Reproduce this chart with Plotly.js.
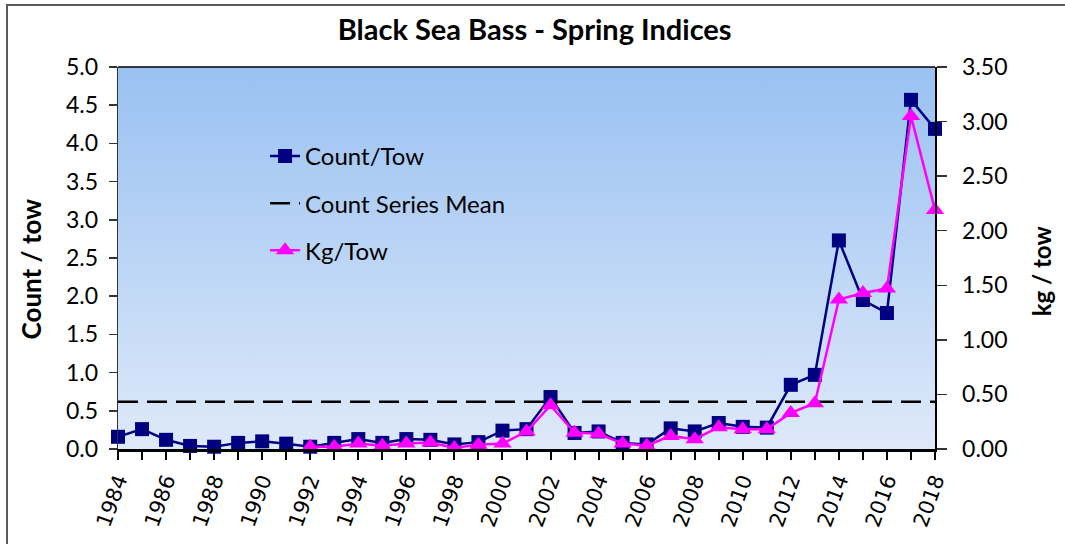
<!DOCTYPE html>
<html>
<head>
<meta charset="utf-8">
<script src="https://cdn.plot.ly/plotly-3.0.1.min.js"></script>
<style>
  body { margin: 0; background: #fff; }
  #chart { position: absolute; left: 0; top: 0; width: 1065px; height: 544px; }
  #frame { position: absolute; left: 6px; top: 4px; width: 1070px; height: 560px;
           border-left: 2px solid #5a5a5a; border-top: 2px solid #5a5a5a; pointer-events: none; }
</style>
</head>
<body>
<div id="chart"></div>
<div id="frame"></div>
<script>
// survey years
var years = [1984, 1985, 1986, 1987, 1988, 1989, 1990, 1991, 1992, 1993, 1994, 1995,
  1996, 1997, 1998, 1999, 2000, 2001, 2002, 2003, 2004, 2005, 2006, 2007, 2008,
  2009, 2010, 2011, 2012, 2013, 2014, 2015, 2016, 2017, 2018];

// stratified mean number per tow
var countPerTow = [0.16, 0.26, 0.12, 0.04, 0.03, 0.08, 0.10, 0.07, 0.03, 0.08, 0.13, 0.08,
  0.13, 0.12, 0.06, 0.09, 0.24, 0.26, 0.68, 0.21, 0.23, 0.08, 0.06, 0.27, 0.23,
  0.34, 0.29, 0.28, 0.84, 0.97, 2.73, 1.95, 1.78, 4.57, 4.19];

// weight per tow starts in 1992
var kgYears = years.slice(8);
var kgPerTow = [0.02, 0.02, 0.05, 0.03,
  0.05, 0.06, 0.01, 0.04, 0.05, 0.16, 0.40, 0.15, 0.14, 0.05, 0.03, 0.12, 0.09,
  0.20, 0.18, 0.18, 0.33, 0.42, 1.37, 1.43, 1.47, 3.05, 2.19];

var countMean = 0.62;
var meanYears = [1984, 2018];

var xLabels = [1984, 1986, 1988, 1990, 1992, 1994, 1996, 1998, 2000, 2002, 2004, 2006,
  2008, 2010, 2012, 2014, 2016, 2018];

var calib = "Lato, 'Open Sans', sans-serif";

var gradSvg = '<svg xmlns="http://www.w3.org/2000/svg" width="10" height="100" preserveAspectRatio="none">' +
  '<defs><linearGradient id="g" x1="0" y1="0" x2="0" y2="1">' +
  '<stop offset="0" stop-color="#99c1f2"/><stop offset="1" stop-color="#dee9f9"/>' +
  '</linearGradient></defs><rect width="10" height="100" fill="url(#g)"/></svg>';
var gradSrc = 'data:image/svg+xml;charset=utf-8,' + encodeURIComponent(gradSvg);

var data = [
  {
    x: years, y: countPerTow,
    name: 'Count/Tow', type: 'scatter', mode: 'lines+markers',
    line: { color: '#000080', width: 2.5 },
    marker: { symbol: 'square', size: 14, color: '#000080' },
    legendgroup: 'a', cliponaxis: false
  },
  {
    x: meanYears, y: [countMean, countMean],
    name: 'Count Series Mean', type: 'scatter', mode: 'lines',
    line: { color: '#000000', width: 2.5, dash: '20px,9px' },
    legendgroup: 'b'
  },
  {
    x: kgYears, y: kgPerTow, yaxis: 'y2',
    name: 'Kg/Tow', type: 'scatter', mode: 'lines+markers',
    line: { color: '#ff00ff', width: 2.5 },
    marker: { symbol: 'triangle-up', size: 16, color: '#ff00ff' },
    legendgroup: 'c', cliponaxis: false
  }
];

var layout = {
  width: 1065, height: 544,
  margin: { l: 118, r: 130, t: 67, b: 95 },
  paper_bgcolor: 'rgba(0,0,0,0)',
  plot_bgcolor: 'rgba(0,0,0,0)',
  showlegend: true,
  title: {
    text: '<b>Black Sea Bass - Spring Indices</b>',
    font: { family: calib, size: 29, color: '#000' },
    x: 0.502, xanchor: 'center', y: 0.945, yanchor: 'middle'
  },
  legend: {
    x: 0.18, y: 0.825, xanchor: 'left', yanchor: 'top',
    bgcolor: 'rgba(0,0,0,0)', font: { family: calib, size: 24, color: '#000' },
    traceorder: 'grouped', tracegroupgap: 13
  },
  xaxis: {
    range: [1984, 2018], tickvals: xLabels, ticktext: xLabels.map(String),
    tickangle: -70, ticks: 'outside', ticklen: 8, tickwidth: 2, tickcolor: '#000',
    minor: { dtick: 1, tick0: 1984, ticks: 'outside', ticklen: 8, tickwidth: 2, tickcolor: '#000' },
    tickfont: { family: 'DejaVu Sans', size: 21, color: '#000' },
    showline: true, linecolor: '#000', linewidth: 3,
    showgrid: false, zeroline: false, fixedrange: true
  },
  xaxis2: {
    overlaying: 'x', anchor: 'y', side: 'bottom', range: [1984, 2018],
    dtick: 1, tick0: 1984, ticks: 'inside', ticklen: 8, tickwidth: 2, tickcolor: '#000',
    showticklabels: false, showline: false, showgrid: false, zeroline: false, fixedrange: true
  },
  yaxis: {
    range: [0, 5], dtick: 0.5, tickformat: '.1f', ticksuffix: '\u00a0',
    ticks: 'outside', ticklen: 8, tickwidth: 1.5, tickcolor: '#333',
    tickfont: { family: calib, size: 23, color: '#000' },
    showline: true, linecolor: '#333', linewidth: 1.5,
    showgrid: false, zeroline: false, fixedrange: true
  },
  yaxis3: {
    overlaying: 'y', anchor: 'x', side: 'left', range: [0, 5], dtick: 0.5,
    ticks: 'inside', ticklen: 8, tickwidth: 1.5, tickcolor: '#333',
    showticklabels: false, showline: false, showgrid: false, zeroline: false, fixedrange: true
  },
  yaxis2: {
    overlaying: 'y', side: 'right', anchor: 'x', range: [0, 3.5], dtick: 0.5, tickformat: '.2f',
    ticks: 'outside', ticklen: 10, tickwidth: 1.5, tickcolor: '#333',
    tickfont: { family: calib, size: 23, color: '#000' }, ticklabelstandoff: 11,
    showline: true, linecolor: '#000', linewidth: 1.5,
    showgrid: false, zeroline: false, fixedrange: true
  },
  annotations: [
    { text: '<b>Count / tow</b>', xref: 'paper', yref: 'paper', x: 0, y: 0.47,
      xshift: -87, textangle: -90, showarrow: false, xanchor: 'center', yanchor: 'middle',
      font: { family: calib, size: 26, color: '#000' } },
    { text: '<b>kg / tow</b>', xref: 'paper', yref: 'paper', x: 1, y: 0.465,
      xshift: 106, textangle: -90, showarrow: false, xanchor: 'center', yanchor: 'middle',
      font: { family: calib, size: 24, color: '#000' } }
  ],
  shapes: [
    { type: 'line', xref: 'paper', yref: 'paper', x0: 0, x1: 1, y0: 1, y1: 1,
      line: { color: '#000', width: 1.5 } }
  ],
  images: [
    { source: gradSrc, xref: 'paper', yref: 'paper', x: 0, y: 1, sizex: 1, sizey: 1,
      xanchor: 'left', yanchor: 'top', sizing: 'stretch', layer: 'below' }
  ]
};

Plotly.newPlot('chart', data, layout, { displayModeBar: false, staticPlot: true });
</script>
</body>
</html>
